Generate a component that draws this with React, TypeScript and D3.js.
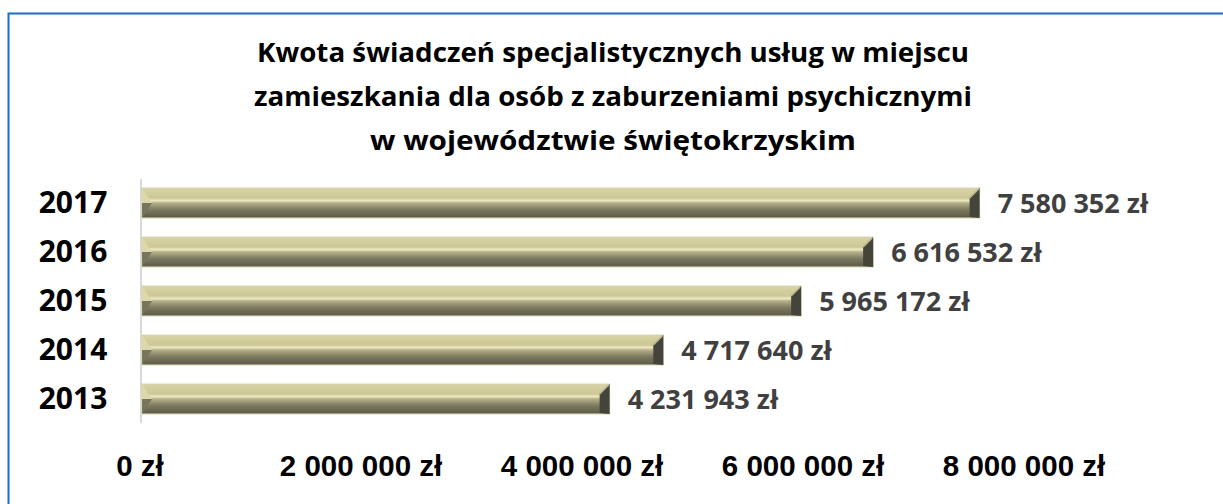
import React from "react";
import * as d3 from "d3";

const years = ["2017", "2016", "2015", "2014", "2013"];
const values = [7580352, 6616532, 5965172, 4717640, 4231943];
const ticks = [0, 2000000, 4000000, 6000000, 8000000];
const titleLines = [
  "Kwota świadczeń specjalistycznych usług w miejscu",
  "zamieszkania dla osób z zaburzeniami psychicznymi",
  "w województwie świętokrzyskim",
];

const fmt = (v: number) =>
  String(v).replace(/\B(?=(\d{3})+(?!\d))/g, " ") + " zł";

export default function App() {
  const W = 1223;
  const H = 504;
  const x = d3.scaleLinear().domain([0, 8000000]).range([142, 1026]);
  const y = d3
    .scaleBand<string>()
    .domain(years)
    .range([178.5, 423.5])
    .paddingInner(0.39)
    .paddingOuter(0.195);
  const bw = y.bandwidth();
  const b = 10;
  const titleWidths = [712, 718, 486];
  const titleY = [62, 106, 150];

  return (
    <svg
      width={W}
      height={H}
      style={{ position: "absolute", left: 0, top: 0, background: "#fff" }}
    >
      <defs>
        <linearGradient id="face" x1="0" y1="0" x2="0" y2="1">
          <stop offset="0" stopColor="#d9d4a6" />
          <stop offset="0.33" stopColor="#cdc796" />
          <stop offset="0.42" stopColor="#ece8c1" />
          <stop offset="0.5" stopColor="#b5b088" />
          <stop offset="0.72" stopColor="#7c7a60" />
          <stop offset="1" stopColor="#5a5946" />
        </linearGradient>
      </defs>
      <rect x={8.5} y={13.5} width={1300} height={600} fill="none" stroke="#1c6dbf" strokeWidth={2} />

      <g fontFamily="'Open Sans', sans-serif" fontWeight="bold" fill="#000" textAnchor="middle">
        {titleLines.map((t, i) => (
          <text
            key={i}
            x={613}
            y={titleY[i]}
            fontSize={27}
            textLength={titleWidths[i]}
            lengthAdjust="spacingAndGlyphs"
          >
            {t}
          </text>
        ))}
      </g>

      <line x1={141} x2={141} y1={179} y2={423} stroke="#d9d9d9" strokeWidth={2} />

      {years.map((yr, i) => {
        const x0 = x(0);
        const x1 = x(values[i]);
        const y0 = y(yr)!;
        const y1 = y0 + bw;
        const ym = (y0 + y1) / 2;
        return (
          <g key={yr}>
            <rect x={x0} y={y0} width={x1 - x0} height={bw} fill="url(#face)" stroke="#d5d0a8" strokeWidth={1} />
            <polygon points={`${x0},${y0} ${x0 + b},${ym} ${x0},${ym}`} fill="#ddd8ab" />
            <polygon points={`${x0},${ym} ${x0 + b},${ym} ${x0},${y1}`} fill="#77755b" />
            <polygon points={`${x1},${y0} ${x1},${y1} ${x1 - b},${y1 - 1} ${x1 - b},${y0 + b}`} fill="#45443a" />
            <line x1={x1 - b} y1={y0 + b} x2={x1 - 1} y2={y0 + 1} stroke="#b9b48f" strokeWidth={1.5} />
            <text
              x={x1 + 18}
              y={ym + 10}
              fontFamily="'Open Sans', sans-serif"
              fontWeight="bold"
              fontSize={27}
              fill="#404040"
            >
              {fmt(values[i])}
            </text>
            <text
              x={73}
              y={ym + 10}
              textAnchor="middle"
              fontFamily="'Open Sans', sans-serif"
              fontWeight="bold"
              fontSize={30}
              fill="#000"
            >
              {yr}
            </text>
          </g>
        );
      })}

      {ticks.map((t) => (
        <text
          key={t}
          x={x(t) - 2}
          y={476}
          textAnchor="middle"
          fontFamily="'Liberation Sans', Arial, sans-serif"
          fontWeight="bold"
          fontSize={29.5}
          fill="#000"
        >
          {fmt(t)}
        </text>
      ))}
    </svg>
  );
}
